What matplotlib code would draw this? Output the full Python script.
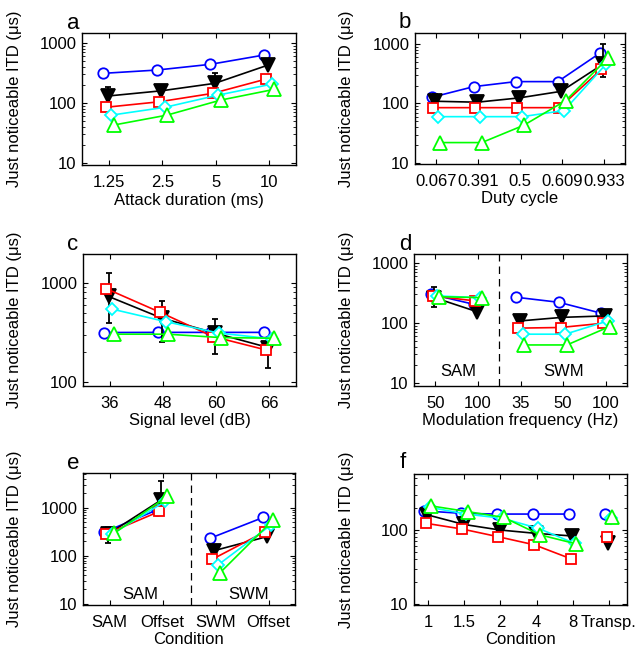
import matplotlib
matplotlib.use('Agg')
import matplotlib.pyplot as plt
import numpy as np
from matplotlib.ticker import FixedLocator, LogLocator, NullFormatter, FixedFormatter

plt.rcParams['font.family'] = ['Liberation Sans', 'DejaVu Sans']
plt.rcParams['font.size'] = 12

# ---------------- data ----------------
a_xticks = ['1.25', '2.5', '5', '10']
a_blue = [313, 355, 442, 631]
a_black = [131, 160, 213, 430]
a_black_hi = [183, 192, 313, 430]
a_black_lo = [131, 160, 213, 430]
a_red = [85, 105, 145, 251]
a_cyan = [63, 85, 136, 207]
a_green = [43, 63, 112, 169]

b_xticks = ['0.067', '0.391', '0.5', '0.609', '0.933']
b_blue = [127, 192, 233, 233, 700]
b_black = [109, 105, 124, 160, 460]
b_black_hi = [145, 135, 124, 160, 1010]
b_black_lo = [109, 105, 124, 160, 282]
b_red = [85, 85, 85, 85, 378]
b_cyan = [60, 60, 60, 76, 460]
b_green = [22, 22, 43, 112, 577]

c_xticks = ['36', '48', '60', '66']
c_blue = [315, 316, 316, 316]
c_black = [728, 440, 311, 222]
c_black_hi = [1250, 658, 433, 222]
c_black_lo = [392, 255, 190, 137]
c_red = [870, 506, 287, 210]
c_cyan = [542, 406, 311, 272]
c_green = [303, 303, 280, 276]

d_xticks = ['50', '100', '35', '50', '100']
d_blue = [301, 205, 268, 221, 145]
d_black = [264, 154, 108, 124, 131]
d_black_hi = [403, 154, 136, 124, 131]
d_black_lo = [187, 154, 108, 124, 131]
d_red = [282, 233, 82, 84, 99]
d_cyan = [282, 264, 65, 65, 108]
d_green = [274, 264, 43, 43, 87]

e_xticks = ['SAM', 'Offset', 'SWM', 'Offset']
e_blue = [311, 908, 233, 630]
e_black = [287, 1467, 129, 253]
e_black_hi = [408, 3540, 129, 253]
e_black_lo = [184, 1467, 129, 253]
e_red = [287, 839, 85, 321]
e_cyan = [287, 1355, 65, 443]
e_green = [296, 1720, 45, 562]

f_xticks = ['1', '1.5', '2', '4', '8', 'Transp.']
f_blue = [181, 168, 164, 164, 164, 164]
f_black = [160, 119, 100, 90, 83, 66]
f_red = [123, 103, 81, 63, 41, 81]
f_cyan = [202, 164, 144, 105, 66, 144]
f_green = [211, 177, 148, 86, 65, 148]

ylabel = 'Just noticeable ITD (\u03bcs)'

# ---------------- styles ----------------
styles = [
    dict(color='#0000ff', marker='o', ms=7.5, mfc='white', off=-0.10),
    dict(color='#000000', marker='v', ms=9.5, mfc='#000000', off=-0.02),
    dict(color='#ff0000', marker='s', ms=6.5, mfc='white', off=-0.06),
    dict(color='#00ffff', marker='D', ms=6.3, mfc='white', off=0.05),
    dict(color='#00ff00', marker='^', ms=9.5, mfc='white', off=0.09),
]

W, H = 641, 650
FS = 12
fig = plt.figure(figsize=(W / 100, H / 100), dpi=100)


def px_axes(x0, y0, x1, y1):
    return fig.add_axes([x0 / W, 1 - y1 / H, (x1 - x0) / W, (y1 - y0) / H])


def draw(ax, xt, series, hi=None, lo=None, segs=None, ylim=(9.5, 1500),
         yticks=(10, 100, 1000), xlim=None, xlabel='', ylab_x=-0.28):
    n = len(xt)
    pos = np.arange(1, n + 1)
    if segs is None:
        segs = [(0, n)]
    for k, (vals, st) in enumerate(zip(series, styles)):
        x = pos + st['off']
        y = np.array(vals, dtype=float)
        if k == 1 and hi is not None:
            ax.errorbar(x, y, yerr=[y - np.array(lo), np.array(hi) - y], fmt='none',
                        ecolor='k', elinewidth=1.3, capsize=2, capthick=1.3, zorder=2 + k)
        for (s, e) in segs:
            ls = '-' if e - s > 1 else 'none'
            ax.plot(x[s:e], y[s:e], linestyle=ls, color=st['color'], lw=1.2,
                    marker=st['marker'], ms=st['ms'], mfc=st['mfc'],
                    mec=st['color'], mew=1.3, zorder=3 + k)
    ax.set_yscale('log')
    ax.set_ylim(*ylim)
    ax.yaxis.set_major_locator(FixedLocator(list(yticks)))
    ax.yaxis.set_major_formatter(FixedFormatter([str(t) for t in yticks]))
    ax.yaxis.set_minor_locator(LogLocator(base=10, subs=np.arange(2, 10)))
    ax.yaxis.set_minor_formatter(NullFormatter())
    ax.set_xticks(pos)
    ax.set_xticklabels(xt)
    if xlim is None:
        xlim = (0.5, n + 0.5)
    ax.set_xlim(*xlim)
    ax.tick_params(which='both', direction='in', top=True, right=True)
    ax.tick_params(which='major', length=3.5, width=0.8, labelsize=FS)
    ax.tick_params(axis='x', which='major', pad=7)
    ax.tick_params(axis='y', which='major', pad=4)
    ax.tick_params(which='minor', length=2, width=0.6)
    for sp in ax.spines.values():
        sp.set_linewidth(1.0)
    ax.set_xlabel(xlabel, fontsize=FS, labelpad=2)
    ax.set_ylabel(ylabel, fontsize=FS)
    ax.yaxis.set_label_coords(ylab_x, 0.5)


ax_a = px_axes(82, 33, 296, 165)
draw(ax_a, a_xticks, [a_blue, a_black, a_red, a_cyan, a_green], a_black_hi, a_black_lo,
     ylim=(9.3, 1470), xlabel='Attack duration (ms)', ylab_x=(22 - 82) / 214)

ax_b = px_axes(415, 33, 625, 164)
draw(ax_b, b_xticks, [b_blue, b_black, b_red, b_cyan, b_green], b_black_hi, b_black_lo,
     ylim=(9.6, 1530), xlabel='Duty cycle', ylab_x=(354 - 415) / 210)

ax_c = px_axes(83, 254, 296, 386)
draw(ax_c, c_xticks, [c_blue, c_black, c_red, c_cyan, c_green], c_black_hi, c_black_lo,
     ylim=(91, 1950), yticks=(100, 1000), xlabel='Signal level (dB)',
     ylab_x=(22 - 83) / 213)

ax_d = px_axes(414, 254, 627, 386)
draw(ax_d, d_xticks, [d_blue, d_black, d_red, d_cyan, d_green], d_black_hi, d_black_lo,
     segs=[(0, 2), (2, 5)], ylim=(8.9, 1410), xlabel='Modulation frequency (Hz)',
     ylab_x=(354 - 414) / 213)
ax_d.axvline(2.5, color='k', lw=0.9, ls=(0, (6, 4)), zorder=1)
ax_d.text(1.53, 15.3, 'SAM', ha='center', va='center', fontsize=FS)
ax_d.text(4.0, 15.3, 'SWM', ha='center', va='center', fontsize=FS)

ax_e = px_axes(83, 473, 295, 605)
draw(ax_e, e_xticks, [e_blue, e_black, e_red, e_cyan, e_green], e_black_hi, e_black_lo,
     segs=[(0, 2), (2, 4)], ylim=(9.5, 5300), xlabel='Condition',
     ylab_x=(22 - 83) / 212)
ax_e.axvline(2.53, color='k', lw=0.9, ls=(0, (6, 4)), zorder=1)
ax_e.text(1.58, 15.4, 'SAM', ha='center', va='center', fontsize=FS)
ax_e.text(3.62, 15.4, 'SWM', ha='center', va='center', fontsize=FS)

ax_f = px_axes(414, 474, 627, 605)
draw(ax_f, f_xticks, [f_blue, f_black, f_red, f_cyan, f_green],
     segs=[(0, 5), (5, 6)], ylim=(9.7, 570), yticks=(10, 100), xlabel='Condition',
     xlim=(0.61, 6.5), ylab_x=(354 - 414) / 213)

letters = [('a', 73, 29), ('b', 405, 28), ('c', 73, 250), ('d', 405, 250),
           ('e', 73, 469), ('f', 403, 468)]
for t, x, y in letters:
    fig.text(x / W, 1 - y / H, t, fontsize=16, ha='center', va='baseline')

fig.savefig('out.png', dpi=100)
